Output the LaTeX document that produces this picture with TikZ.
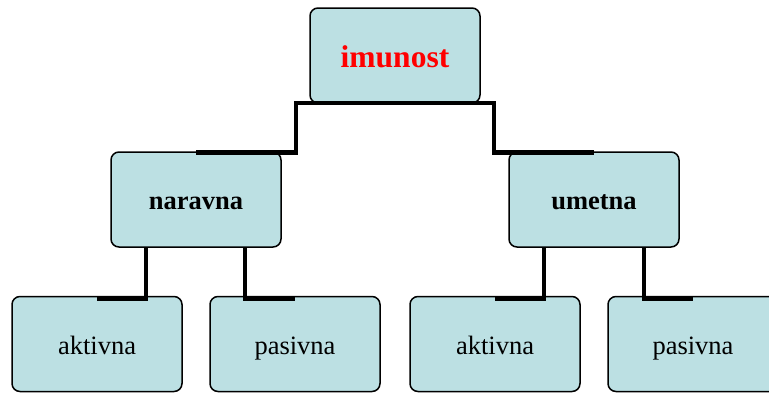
\documentclass[tikz,border=0pt]{standalone}
\usepackage{fontspec}
\setmainfont{Liberation Serif}
\definecolor{boxfill}{RGB}{188,224,227}
\definecolor{titlered}{RGB}{255,0,0}
\begin{document}
\begin{tikzpicture}[x=1pt,y=-1pt,
  box/.style={draw=black, line width=1.5pt, fill=boxfill, rounded corners=8pt,
    minimum width=170pt, minimum height=95pt, inner sep=0pt, anchor=center,
    text height=20pt, text depth=0pt},
  conn/.style={draw=black, line width=4.5pt, line join=miter}]
\useasboundingbox (0,0) rectangle (769,392);
\clip (0,0) rectangle (769,392);
\node[box, font=\fontsize{31.5}{36}\selectfont\bfseries, text=titlered, text height=23pt] (top) at (395,55.5) {imunost};
\node[box, font=\fontsize{26.5}{30}\selectfont\bfseries] (nar) at (196,199.5) {naravna};
\node[box, font=\fontsize{26.5}{30}\selectfont\bfseries] (um) at (594,199.5) {umetna};
\node[box, font=\fontsize{26.5}{30}\selectfont] (a1) at (97,344) {aktivna};
\node[box, font=\fontsize{26.5}{30}\selectfont] (p1) at (295,344) {pasivna};
\node[box, font=\fontsize{26.5}{30}\selectfont] (a2) at (495,344) {aktivna};
\node[box, font=\fontsize{26.5}{30}\selectfont] (p2) at (693,344) {pasivna};
\coordinate (cL) at (296,0);
\coordinate (cR) at (494,0);
\coordinate (c1) at (146,0);
\coordinate (c2) at (245,0);
\coordinate (c3) at (544,0);
\coordinate (c4) at (644,0);
\draw[conn] ([yshift=-1pt]nar.north) -- ([yshift=-1pt]nar.north -| cL) -- ([yshift=1pt]top.south -| cL)
  -- ([yshift=1pt]top.south -| cR) -- ([yshift=-1pt]um.north -| cR) -- ([yshift=-1pt]um.north);
\draw[conn] ([yshift=-3pt]a1.north) -- ([yshift=-3pt]a1.north -| c1) -- (nar.south -| c1);
\draw[conn] (nar.south -| c2) -- ([yshift=-3pt]p1.north -| c2) -- ([yshift=-3pt]p1.north);
\draw[conn] ([yshift=-3pt]a2.north) -- ([yshift=-3pt]a2.north -| c3) -- (um.south -| c3);
\draw[conn] (um.south -| c4) -- ([yshift=-3pt]p2.north -| c4) -- ([yshift=-3pt]p2.north);
\end{tikzpicture}
\end{document}
